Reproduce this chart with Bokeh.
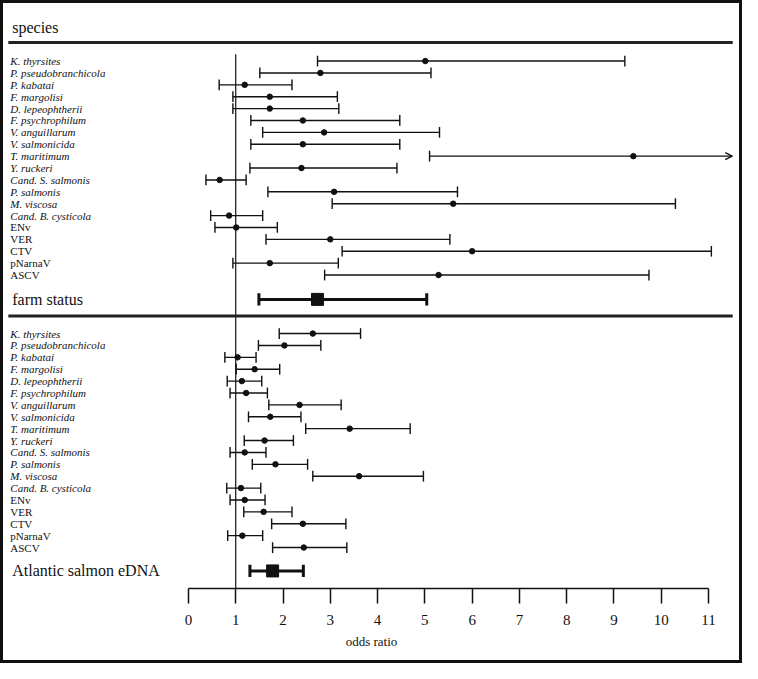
from bokeh.plotting import figure
from bokeh.models import Range1d, FixedTicker, ColumnDataSource, Arrow, OpenHead
from bokeh.core.properties import value
from bokeh.embed import file_html
from bokeh.resources import INLINE

# ---------------- data ----------------
species = ["K. thyrsites", "P. pseudobranchicola", "P. kabatai", "F. margolisi",
           "D. lepeophtherii", "F. psychrophilum", "V. anguillarum", "V. salmonicida",
           "T. maritimum", "Y. ruckeri", "Cand. S. salmonis", "P. salmonis",
           "M. viscosa", "Cand. B. cysticola", "ENv", "VER", "CTV", "pNarnaV", "ASCV"]
viruses = ["ENv", "VER", "CTV", "pNarnaV", "ASCV"]

# odds ratios vs. farm status (None = upper limit off scale)
farm_or = [5.01, 2.79, 1.19, 1.72, 1.72, 2.42, 2.87, 2.42, 9.41, 2.39, 0.66, 3.08,
           5.60, 0.86, 1.01, 3.00, 6.00, 1.72, 5.29]
farm_lo = [2.73, 1.51, 0.65, 0.94, 0.94, 1.32, 1.57, 1.32, 5.10, 1.30, 0.37, 1.68,
           3.04, 0.47, 0.56, 1.64, 3.25, 0.94, 2.88]
farm_hi = [9.23, 5.13, 2.19, 3.15, 3.18, 4.47, 5.31, 4.47, None, 4.41, 1.22, 5.69,
           10.30, 1.57, 1.88, 5.53, 11.06, 3.17, 9.74]
farm_summary = (2.73, 1.49, 5.04)

# odds ratios vs. Atlantic salmon eDNA
salmon_or = [2.63, 2.03, 1.04, 1.40, 1.13, 1.22, 2.35, 1.73, 3.41, 1.61, 1.19, 1.84,
             3.61, 1.11, 1.19, 1.59, 2.42, 1.14, 2.44]
salmon_lo = [1.92, 1.48, 0.77, 1.01, 0.82, 0.88, 1.70, 1.27, 2.48, 1.18, 0.88, 1.35,
             2.63, 0.81, 0.88, 1.17, 1.76, 0.83, 1.78]
salmon_hi = [3.64, 2.80, 1.43, 1.93, 1.55, 1.67, 3.23, 2.38, 4.69, 2.22, 1.64, 2.52,
             4.97, 1.53, 1.62, 2.19, 3.33, 1.57, 3.35]
salmon_summary = (1.78, 1.30, 2.43)

section_titles = ["species", "farm status", "Atlantic salmon eDNA"]
tick_values = list(range(0, 12))
x_label = "odds ratio"
ref_line = 1.0

# ---------------- layout ----------------
W, H = 742, 663
REF_W = 758.0
PX0, PXU = 192.0, 48.3          # reference-pixel position of 0 and pixels per unit


def rx(px):
    return (px - PX0) / PXU


X0, X1 = rx(0), rx(REF_W)
Y_BOTTOM = 602.0                 # vertical coordinate = reference pixel row
ROW = 12.17
TOP_FIRST, BOT_FIRST = 62.0, 341.0
FARM_Y, SALMON_Y, TITLE_Y = 306.0, 584.0, 28.0
CLIP = rx(747.5)
FONT = "Liberation Serif"
INK = "#111111"

p = figure(width=W, height=H, output_backend="svg", toolbar_location=None,
           x_range=Range1d(X0, X1), y_range=Range1d(Y_BOTTOM, 0),
           y_axis_location=None, min_border_left=0, min_border_right=0,
           min_border_top=0, min_border_bottom=75)
p.grid.visible = False
p.outline_line_color = None
p.background_fill_color = None
p.border_fill_color = None
# outer frame around the whole picture
p.styles = {"outline": "3px solid #111111", "outline-offset": "-3px"}

ax = p.xaxis[0]
ax.ticker = FixedTicker(ticks=tick_values, minor_ticks=[])
ax.bounds = (tick_values[0], tick_values[-1])
ax.axis_line_width = 1.5
ax.axis_line_color = INK
ax.major_tick_line_width = 1.5
ax.major_tick_line_color = INK
ax.major_tick_out = 15
ax.major_tick_in = 0
ax.minor_tick_line_color = None
ax.major_label_standoff = 11
ax.major_label_text_font = FONT
ax.major_label_text_font_size = "15px"
ax.major_label_text_color = INK
ax.axis_label = x_label
ax.axis_label_text_font = FONT
ax.axis_label_text_font_style = "normal"
ax.axis_label_text_font_size = "13px"
ax.axis_label_text_color = INK
ax.axis_label_standoff = 6

# reference line at OR = 1
p.segment(x0=[ref_line], y0=[55], x1=[ref_line], y1=[Y_BOTTOM], line_color=INK, line_width=1.2)

# separators
p.segment(x0=[rx(8), rx(8)], y0=[43, 323], x1=[rx(748), rx(748)], y1=[43, 323],
          line_color="#222222", line_width=3.2)


def draw_section(first_y, ors, los, his):
    ys = [first_y + i * ROW for i in range(len(ors))]
    his_drawn = [h if h is not None else CLIP for h in his]
    p.segment(x0=los, y0=ys, x1=his_drawn, y1=ys, line_color=INK, line_width=1.4)
    cap = 5.5
    p.segment(x0=los, y0=[y - cap for y in ys], x1=los, y1=[y + cap for y in ys],
              line_color=INK, line_width=1.4)
    hx = [h for h in his if h is not None]
    hy = [y for h, y in zip(his, ys) if h is not None]
    p.segment(x0=hx, y0=[y - cap for y in hy], x1=hx, y1=[y + cap for y in hy],
              line_color=INK, line_width=1.4)
    for h, lo, y in zip(his, los, ys):
        if h is None:
            p.add_layout(Arrow(end=OpenHead(size=7, line_width=1.3, line_color=INK),
                               x_start=lo, y_start=y, x_end=CLIP, y_end=y,
                               line_width=0, line_alpha=0))
    p.scatter(ors, ys, marker="circle", size=5.5, fill_color=INK, line_color=INK)
    styles = ["normal" if s in viruses else "italic" for s in species]
    src = ColumnDataSource(dict(x=[rx(10)] * len(species), y=ys, t=species, st=styles))
    p.text(x="x", y="y", text="t", source=src, text_font=value(FONT),
           text_font_size="11px", text_font_style="st", text_baseline="middle",
           text_align="left", text_color=INK)


def draw_summary(y, summ):
    or_, lo, hi = summ
    p.segment(x0=[lo], y0=[y], x1=[hi], y1=[y], line_color=INK, line_width=3)
    cap = 6.3
    p.segment(x0=[lo, hi], y0=[y - cap, y - cap], x1=[lo, hi], y1=[y + cap, y + cap],
              line_color=INK, line_width=3)
    p.scatter([or_], [y], marker="square", size=12, fill_color=INK, line_color=INK)


draw_section(TOP_FIRST, farm_or, farm_lo, farm_hi)
draw_section(BOT_FIRST, salmon_or, salmon_lo, salmon_hi)
draw_summary(FARM_Y, farm_summary)
draw_summary(SALMON_Y, salmon_summary)

p.text(x=[rx(12)] * 3, y=[TITLE_Y, FARM_Y, SALMON_Y], text=section_titles,
       text_font=value(FONT), text_font_size="16px", text_baseline="middle",
       text_align="left", text_color=INK)

open("out.html", "w").write(file_html(p, INLINE))
